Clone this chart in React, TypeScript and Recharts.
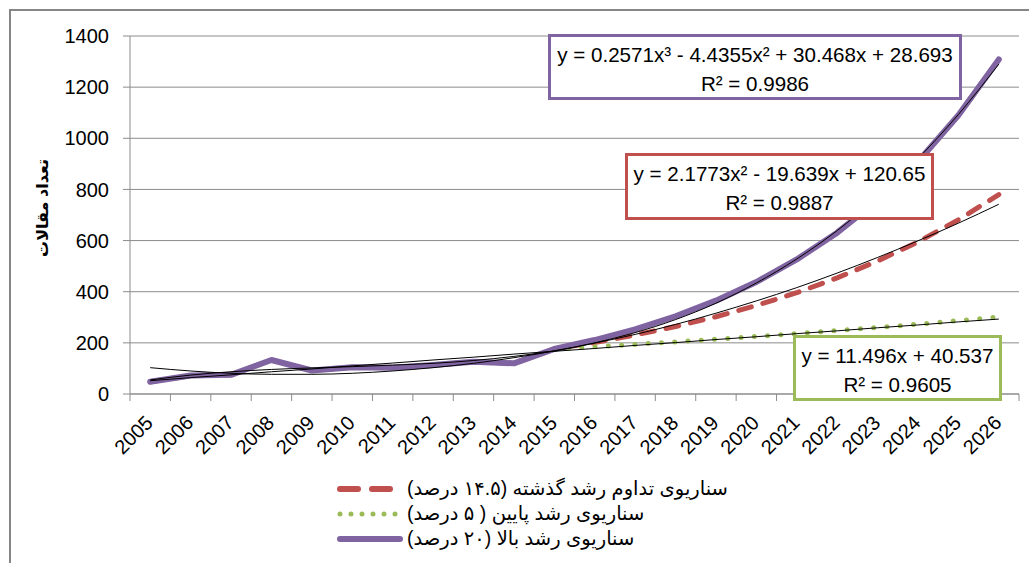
import { CartesianGrid, Line, LineChart, XAxis, YAxis } from "recharts";

// years on the category axis
const years = [
  "2005", "2006", "2007", "2008", "2009", "2010", "2011", "2012", "2013", "2014", "2015",
  "2016", "2017", "2018", "2019", "2020", "2021", "2022", "2023", "2024", "2025", "2026",
];

// observed counts 2005-2015 (shared by all scenarios)
const history = [48, 72, 75, 133, 92, 105, 103, 113, 126, 120, 176];

// projections 2016-2026
const pastGrowth = [201, 231, 264, 302, 346, 396, 454, 520, 595, 681, 780];
const lowGrowth = [185, 194, 204, 214, 225, 236, 248, 260, 273, 287, 301];
const highGrowth = [211, 253, 304, 365, 438, 526, 631, 757, 908, 1090, 1308];

// trend lines (Excel trendlines)
const trendHigh = [
  55, 74, 87, 96, 102, 107, 113, 120, 131, 147, 169,
  200, 240, 291, 355, 434, 528, 639, 770, 921, 1093, 1290,
];
const trendPast = [
  103, 90, 81, 77, 77, 81, 90, 103, 120, 142, 168,
  199, 233, 272, 316, 364, 416, 473, 534, 599, 668, 742,
];
const trendLow = [
  52, 64, 75, 87, 98, 110, 121, 133, 144, 156, 167,
  178, 190, 201, 213, 224, 236, 247, 259, 270, 282, 293,
];

const yTicks = [0, 200, 400, 600, 800, 1000, 1200, 1400];

const yTitle = "تعداد مقالات";
const legendItems = [
  { key: "past", label: "سناریوی تداوم رشد گذشته (۱۴.۵ درصد)" },
  { key: "low", label: "سناریوی رشد پایین ( ۵ درصد)" },
  { key: "high", label: "سناریوی رشد بالا (۲۰ درصد)" },
];
const eqHigh = ["y = 0.2571x³ - 4.4355x² + 30.468x + 28.693", "R² = 0.9986"];
const eqPast = ["y = 2.1773x² - 19.639x + 120.65", "R² = 0.9887"];
const eqLow = ["y = 11.496x + 40.537", "R² = 0.9605"];

const RED = "#C0504D";
const GREEN = "#9BBB59";
const PURPLE = "#8064A2";
const GRID = "#8c8c8c";
const FONT = "'Liberation Sans', Arial, 'DejaVu Sans', sans-serif";
const HALF_BAND = 20.2;

const data = years.map((year, i) => {
  const h = i < history.length ? history[i] : null;
  const j = i - history.length;
  return {
    year,
    past: h ?? pastGrowth[j],
    low: h ?? lowGrowth[j],
    high: h ?? highGrowth[j],
    tHigh: trendHigh[i],
    tPast: trendPast[i],
    tLow: trendLow[i],
  };
});

// rotated year label plus Excel-style tick marks between categories
function YearTick({ x, y, payload, index }: any) {
  const ax = x + 4;
  const ay = y + 30;
  return (
    <g>
      <line x1={x - HALF_BAND} y1={y} x2={x - HALF_BAND} y2={y + 7} stroke={GRID} />
      {index === years.length - 1 && (
        <line x1={x + HALF_BAND} y1={y} x2={x + HALF_BAND} y2={y + 7} stroke={GRID} />
      )}
      <text
        x={ax}
        y={ay}
        transform={`rotate(-45 ${ax} ${ay})`}
        textAnchor="end"
        fontSize={20}
        fontFamily={FONT}
        fill="#000"
      >
        {payload.value}
      </text>
    </g>
  );
}

function EqBox({
  lines,
  color,
  left,
  top,
  width,
  height,
}: {
  lines: string[];
  color: string;
  left: number;
  top: number;
  width: number;
  height: number;
}) {
  return (
    <div
      style={{
        position: "absolute",
        left,
        top,
        width,
        height,
        boxSizing: "border-box",
        border: `3px solid ${color}`,
        background: "#fff",
        fontFamily: FONT,
        fontSize: 20.6,
        lineHeight: "29px",
        textAlign: "center",
        paddingTop: 3,
        color: "#000",
        whiteSpace: "nowrap",
      }}
    >
      {lines.map((l) => (
        <div key={l}>{l}</div>
      ))}
    </div>
  );
}

function LegendIcon({ k }: { k: string }) {
  return (
    <svg width={66} height={12} style={{ display: "block" }}>
      {k === "past" && (
        <line x1={3} y1={6} x2={63} y2={6} stroke={RED} strokeWidth={6} strokeLinecap="round" strokeDasharray="18 14" />
      )}
      {k === "low" && (
        <line x1={3} y1={6} x2={60} y2={6} stroke={GREEN} strokeWidth={5} strokeLinecap="round" strokeDasharray="0 11" />
      )}
      {k === "high" && (
        <line x1={3} y1={6} x2={63} y2={6} stroke={PURPLE} strokeWidth={6} strokeLinecap="round" />
      )}
    </svg>
  );
}

export default function App() {
  return (
    <div
      style={{
        position: "absolute",
        left: 0,
        top: 0,
        width: 1029,
        height: 563,
        background: "#fff",
        overflow: "hidden",
      }}
    >
      <div
        style={{
          position: "absolute",
          left: 9,
          top: 9,
          width: 1040,
          height: 600,
          borderLeft: "2px solid #868686",
          borderTop: "2px solid #868686",
        }}
      />
      <LineChart
        width={1029}
        height={563}
        data={data}
        margin={{ top: 36, right: 10, left: 0, bottom: 109 }}
      >
        <CartesianGrid vertical={false} stroke={GRID} strokeWidth={1} />
        <XAxis
          dataKey="year"
          interval={0}
          padding={{ left: HALF_BAND, right: HALF_BAND }}
          tickLine={false}
          tickSize={0}
          tickMargin={0}
          axisLine={{ stroke: GRID }}
          tick={<YearTick />}
          height={60}
        />
        <YAxis
          domain={[0, 1400]}
          ticks={yTicks}
          width={130}
          tickSize={7}
          tickMargin={14}
          tickLine={{ stroke: GRID }}
          axisLine={{ stroke: GRID }}
          tick={{ fontSize: 20, fill: "#000", fontFamily: FONT }}
        />
        <Line
          dataKey="past"
          stroke={RED}
          strokeWidth={5}
          strokeDasharray="13 12"
          strokeLinecap="round"
          dot={false}
          isAnimationActive={false}
        />
        <Line
          dataKey="low"
          stroke={GREEN}
          strokeWidth={5}
          strokeDasharray="0 13.3"
          strokeLinecap="round"
          dot={false}
          isAnimationActive={false}
        />
        <Line
          dataKey="high"
          stroke={PURPLE}
          strokeWidth={6}
          strokeLinecap="round"
          strokeLinejoin="round"
          dot={false}
          isAnimationActive={false}
        />
        <Line dataKey="tLow" type="monotone" stroke="#000" strokeWidth={1} dot={false} isAnimationActive={false} />
        <Line dataKey="tPast" type="monotone" stroke="#000" strokeWidth={1} dot={false} isAnimationActive={false} />
        <Line dataKey="tHigh" type="monotone" stroke="#000" strokeWidth={1} dot={false} isAnimationActive={false} />
      </LineChart>

      <div
        style={{
          position: "absolute",
          left: 42,
          top: 208,
          transform: "translate(-50%, -50%) rotate(-90deg)",
          fontFamily: FONT,
          fontWeight: "bold",
          fontSize: 16,
          whiteSpace: "nowrap",
          direction: "rtl",
        }}
      >
        {yTitle}
      </div>

      <EqBox lines={eqHigh} color={PURPLE} left={548} top={34} width={414} height={66} />
      <EqBox lines={eqPast} color={RED} left={625} top={153} width={309} height={67} />
      <EqBox lines={eqLow} color={GREEN} left={793} top={335} width={209} height={66} />

      <div style={{ position: "absolute", left: 337, top: 476 }}>
        {legendItems.map((it) => (
          <div key={it.key} style={{ display: "flex", alignItems: "center", height: 25 }}>
            <LegendIcon k={it.key} />
            <span
              style={{
                fontFamily: FONT,
                fontSize: 19.5,
                direction: "rtl",
                unicodeBidi: "isolate",
                marginLeft: 4,
                whiteSpace: "nowrap",
              }}
            >
              {it.label}
            </span>
          </div>
        ))}
      </div>
    </div>
  );
}
